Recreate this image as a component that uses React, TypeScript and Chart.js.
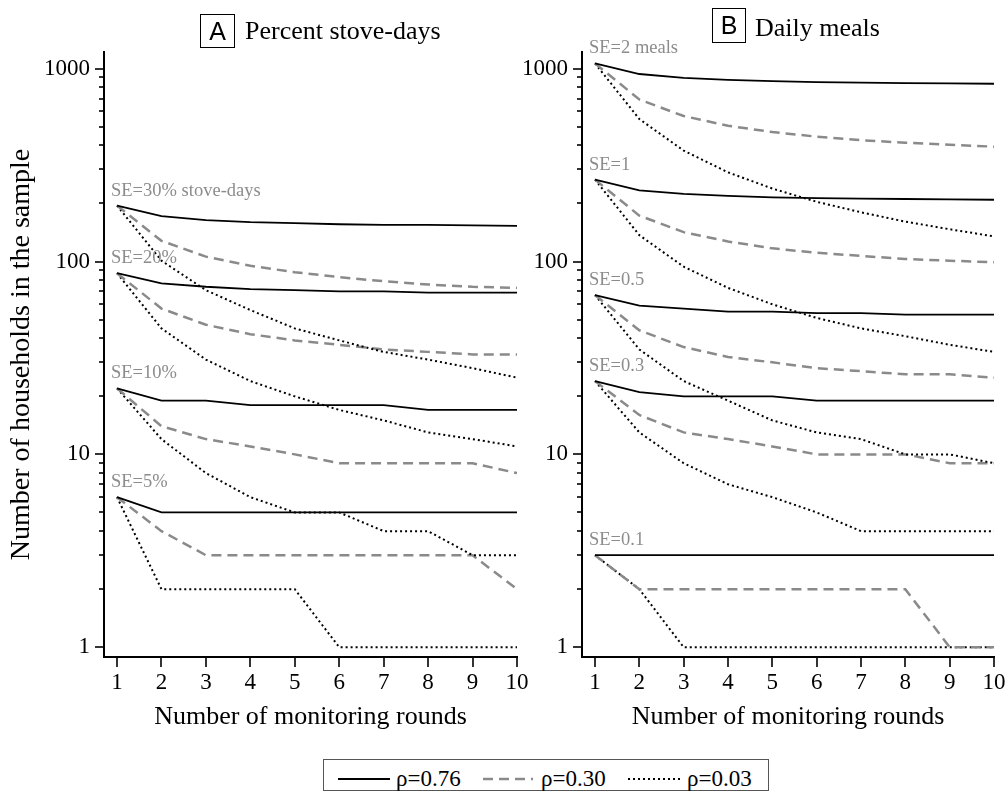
import React, { useEffect, useRef } from "react";
import { Chart, registerables } from "chart.js";

Chart.register(...registerables);

const SERIF = '"Liberation Serif", "Times New Roman", serif';
const SANS = '"Liberation Sans", Arial, sans-serif';

// ---------- data ----------
const rounds = [1, 2, 3, 4, 5, 6, 7, 8, 9, 10];
const yTickValues = [1, 10, 100, 1000];
const yMinorTicks = [2, 3, 4, 5, 6, 7, 8, 9, 20, 30, 40, 50, 60, 70, 80, 90, 200, 300, 400, 500, 600, 700, 800, 900];
const rhoLabels = ["ρ=0.76", "ρ=0.30", "ρ=0.03"];

// Panel A: percent stove-days
const stoveLabels = ["SE=30% stove-days", "SE=20%", "SE=10%", "SE=5%"];
const stove30_r76 = [195, 172, 164, 160, 158, 156, 155, 155, 154, 153];
const stove30_r30 = [195, 128, 106, 95, 88, 83, 79, 76, 74, 73];
const stove30_r03 = [195, 101, 71, 56, 45, 39, 34, 31, 28, 25];
const stove20_r76 = [87, 77, 74, 72, 71, 70, 70, 69, 69, 69];
const stove20_r30 = [87, 57, 47, 42, 39, 37, 35, 34, 33, 33];
const stove20_r03 = [87, 45, 31, 24, 20, 17, 15, 13, 12, 11];
const stove10_r76 = [22, 19, 19, 18, 18, 18, 18, 17, 17, 17];
const stove10_r30 = [22, 14, 12, 11, 10, 9, 9, 9, 9, 8];
const stove10_r03 = [22, 12, 8, 6, 5, 5, 4, 4, 3, 3];
const stove5_r76 = [6, 5, 5, 5, 5, 5, 5, 5, 5, 5];
const stove5_r30 = [6, 4, 3, 3, 3, 3, 3, 3, 3, 2];
const stove5_r03 = [6, 2, 2, 2, 2, 1, 1, 1, 1, 1];

// Panel B: daily meals
const mealLabels = ["SE=2 meals", "SE=1", "SE=0.5", "SE=0.3", "SE=0.1"];
const meal2_r76 = [1065, 938, 895, 874, 861, 852, 846, 842, 838, 835];
const meal2_r30 = [1065, 692, 568, 506, 469, 444, 426, 413, 403, 394];
const meal2_r03 = [1065, 548, 376, 290, 239, 204, 180, 161, 147, 135];
const meal1_r76 = [266, 234, 224, 219, 215, 213, 212, 211, 210, 209];
const meal1_r30 = [266, 173, 142, 127, 117, 111, 107, 103, 101, 99];
const meal1_r03 = [266, 137, 94, 73, 60, 51, 45, 41, 37, 34];
const meal05_r76 = [67, 59, 57, 55, 55, 54, 54, 53, 53, 53];
const meal05_r30 = [67, 44, 36, 32, 30, 28, 27, 26, 26, 25];
const meal05_r03 = [67, 35, 24, 19, 15, 13, 12, 10, 10, 9];
const meal03_r76 = [24, 21, 20, 20, 20, 19, 19, 19, 19, 19];
const meal03_r30 = [24, 16, 13, 12, 11, 10, 10, 10, 9, 9];
const meal03_r03 = [24, 13, 9, 7, 6, 5, 4, 4, 4, 4];
const meal01_r76 = [3, 3, 3, 3, 3, 3, 3, 3, 3, 3];
const meal01_r30 = [3, 2, 2, 2, 2, 2, 2, 2, 1, 1];
const meal01_r03 = [3, 2, 1, 1, 1, 1, 1, 1, 1, 1];

const stoveGroups = [
  [stove30_r76, stove30_r30, stove30_r03],
  [stove20_r76, stove20_r30, stove20_r03],
  [stove10_r76, stove10_r30, stove10_r03],
  [stove5_r76, stove5_r30, stove5_r03],
];
const mealGroups = [
  [meal2_r76, meal2_r30, meal2_r03],
  [meal1_r76, meal1_r30, meal1_r03],
  [meal05_r76, meal05_r30, meal05_r03],
  [meal03_r76, meal03_r30, meal03_r03],
  [meal01_r76, meal01_r30, meal01_r03],
];

// ---------- styles ----------
const seriesStyles = [
  { borderColor: "#000000", borderWidth: 1.8, borderDash: [] as number[] },
  { borderColor: "#8a8a8a", borderWidth: 2.5, borderDash: [10, 6] },
  { borderColor: "#000000", borderWidth: 2, borderDash: [2, 3] },
];

const H = 740;
const AREA_TOP = 52;
const AREA_BOTTOM = 657;

function makeTicksPlugin() {
  return {
    id: "axisTicks",
    afterDraw(chart: any) {
      const { ctx, chartArea, scales } = chart;
      ctx.save();
      ctx.strokeStyle = "#000";
      ctx.lineWidth = 1.6;
      const drawY = (v: number, len: number) => {
        const py = Math.round(scales.y.getPixelForValue(v));
        if (py < chartArea.top - 1 || py > chartArea.bottom + 1) return;
        ctx.beginPath();
        ctx.moveTo(chartArea.left - len, py);
        ctx.lineTo(chartArea.left, py);
        ctx.stroke();
      };
      yTickValues.forEach((v) => drawY(v, 9));
      yMinorTicks.forEach((v) => drawY(v, 5));
      rounds.forEach((r) => {
        const px = Math.round(scales.x.getPixelForValue(r));
        ctx.beginPath();
        ctx.moveTo(px, chartArea.bottom);
        ctx.lineTo(px, chartArea.bottom + 10);
        ctx.stroke();
      });
      ctx.restore();
    },
  };
}

function makeLabelPlugin(texts: string[], groups: number[][][]) {
  return {
    id: "seLabels",
    afterDatasetsDraw(chart: any) {
      const { ctx, scales } = chart;
      ctx.save();
      ctx.font = `18.5px ${SERIF}`;
      ctx.fillStyle = "#8c8c8c";
      ctx.textAlign = "left";
      ctx.textBaseline = "alphabetic";
      texts.forEach((t, i) => {
        const x = scales.x.getPixelForValue(rounds[0]) - 6;
        const y = scales.y.getPixelForValue(groups[i][0][0]) - 10;
        ctx.fillText(t, x, y);
      });
      ctx.restore();
    },
  };
}

type PanelProps = {
  left: number;
  width: number;
  yAxisWidth: number;
  rightPad: number;
  yTitle: string | null;
  groups: number[][][];
  labels: string[];
};

function Panel({ left, width, yAxisWidth, rightPad, yTitle, groups, labels }: PanelProps) {
  const ref = useRef<HTMLCanvasElement>(null);
  useEffect(() => {
    if (!ref.current) return;
    const datasets: any[] = [];
    groups.forEach((g) => {
      g.forEach((arr, k) => {
        datasets.push({
          label: rhoLabels[k],
          data: rounds.map((r, i) => ({ x: r, y: arr[i] })),
          borderColor: seriesStyles[k].borderColor,
          borderWidth: seriesStyles[k].borderWidth,
          borderDash: seriesStyles[k].borderDash,
          pointRadius: 0,
          fill: false,
          tension: 0,
        });
      });
    });
    const chart = new Chart(ref.current, {
      type: "line",
      data: { datasets },
      options: {
        animation: false,
        responsive: false,
        events: [],
        layout: { padding: { top: AREA_TOP, right: rightPad, left: 0, bottom: 0 } },
        plugins: { legend: { display: false }, tooltip: { enabled: false } },
        scales: {
          x: {
            type: "linear",
            min: 0.707,
            max: 10,
            bounds: "data",
            afterBuildTicks: (s: any) => {
              s.ticks = rounds.map((v) => ({ value: v }));
            },
            afterFit: (s: any) => {
              s.height = H - AREA_BOTTOM;
              s.paddingLeft = 0;
              s.paddingRight = 0;
            },
            grid: { display: false, drawTicks: false, tickLength: 0 },
            border: { display: true, color: "#000", width: 2 },
            ticks: {
              autoSkip: false,
              maxRotation: 0,
              padding: 12,
              color: "#000",
              font: { family: SERIF, size: 23 },
              callback: (v: any) => String(v),
            },
            title: {
              display: true,
              text: "Number of monitoring rounds",
              color: "#000",
              font: { family: SERIF, size: 26 },
              padding: { top: 0, bottom: 7 },
            },
          },
          y: {
            type: "logarithmic",
            min: 0.89,
            max: 1220,
            bounds: "data",
            afterBuildTicks: (s: any) => {
              s.ticks = yTickValues.map((v) => ({ value: v }));
            },
            afterFit: (s: any) => {
              s.width = yAxisWidth;
              s.paddingTop = 0;
              s.paddingBottom = 0;
            },
            grid: { display: false, drawTicks: false, tickLength: 0 },
            border: { display: true, color: "#000", width: 2 },
            ticks: {
              padding: 14,
              color: "#000",
              font: { family: SERIF, size: 23 },
              callback: (v: any) => String(v),
            },
            title: {
              display: !!yTitle,
              text: yTitle || "",
              color: "#000",
              font: { family: SERIF, size: 28 },
              padding: { top: 5, bottom: 0 },
            },
          },
        },
      } as any,
      plugins: [makeTicksPlugin(), makeLabelPlugin(labels, groups)],
    });
    return () => chart.destroy();
  }, []);
  return (
    <canvas
      ref={ref}
      width={width}
      height={H}
      style={{ position: "absolute", left, top: 0, width, height: H }}
    />
  );
}

function LegendLine({ x, w, dash, color, lw }: { x: number; w: number; dash: string; color: string; lw: number }) {
  return (
    <svg style={{ position: "absolute", left: x, top: 774 }} width={w} height={10}>
      <line x1={0} y1={5} x2={w} y2={5} stroke={color} strokeWidth={lw} strokeDasharray={dash} />
    </svg>
  );
}

export default function App() {
  const titleText: React.CSSProperties = {
    position: "absolute",
    font: `26px ${SERIF}`,
    lineHeight: "26px",
    whiteSpace: "nowrap",
    color: "#000",
  };
  const boxStyle: React.CSSProperties = {
    position: "absolute",
    border: "1px solid #000",
    boxSizing: "border-box",
    font: `25px ${SANS}`,
    textAlign: "center",
    color: "#000",
  };
  const legendText: React.CSSProperties = {
    position: "absolute",
    top: 767,
    font: `23px ${SERIF}`,
    lineHeight: "23px",
    whiteSpace: "nowrap",
    color: "#000",
  };
  return (
    <div style={{ position: "absolute", left: 0, top: 0, width: 1008, height: 792, background: "#fff", overflow: "hidden" }}>
      <Panel left={0} width={530} yAxisWidth={104} rightPad={13} yTitle="Number of households in the sample" groups={stoveGroups} labels={stoveLabels} />
      <Panel left={505} width={503} yAxisWidth={77} rightPad={14} yTitle={null} groups={mealGroups} labels={mealLabels} />

      <div style={{ ...boxStyle, left: 200, top: 14, width: 35, height: 34, lineHeight: "32px" }}>A</div>
      <div style={{ ...titleText, left: 245, top: 18 }}>Percent stove-days</div>
      <div style={{ ...boxStyle, left: 712, top: 8, width: 34, height: 35, lineHeight: "33px" }}>B</div>
      <div style={{ ...titleText, left: 755, top: 15 }}>Daily meals</div>

      <div style={{ position: "absolute", left: 323, top: 759, width: 446, height: 32, border: "1px solid #555", boxSizing: "border-box" }} />
      <LegendLine x={338} w={52} dash="" color="#000" lw={2} />
      <div style={{ ...legendText, left: 396 }}>{rhoLabels[0]}</div>
      <LegendLine x={483} w={50} dash="10 6" color="#8a8a8a" lw={2.5} />
      <div style={{ ...legendText, left: 541 }}>{rhoLabels[1]}</div>
      <LegendLine x={628} w={55} dash="2 3" color="#000" lw={2} />
      <div style={{ ...legendText, left: 687 }}>{rhoLabels[2]}</div>
    </div>
  );
}
